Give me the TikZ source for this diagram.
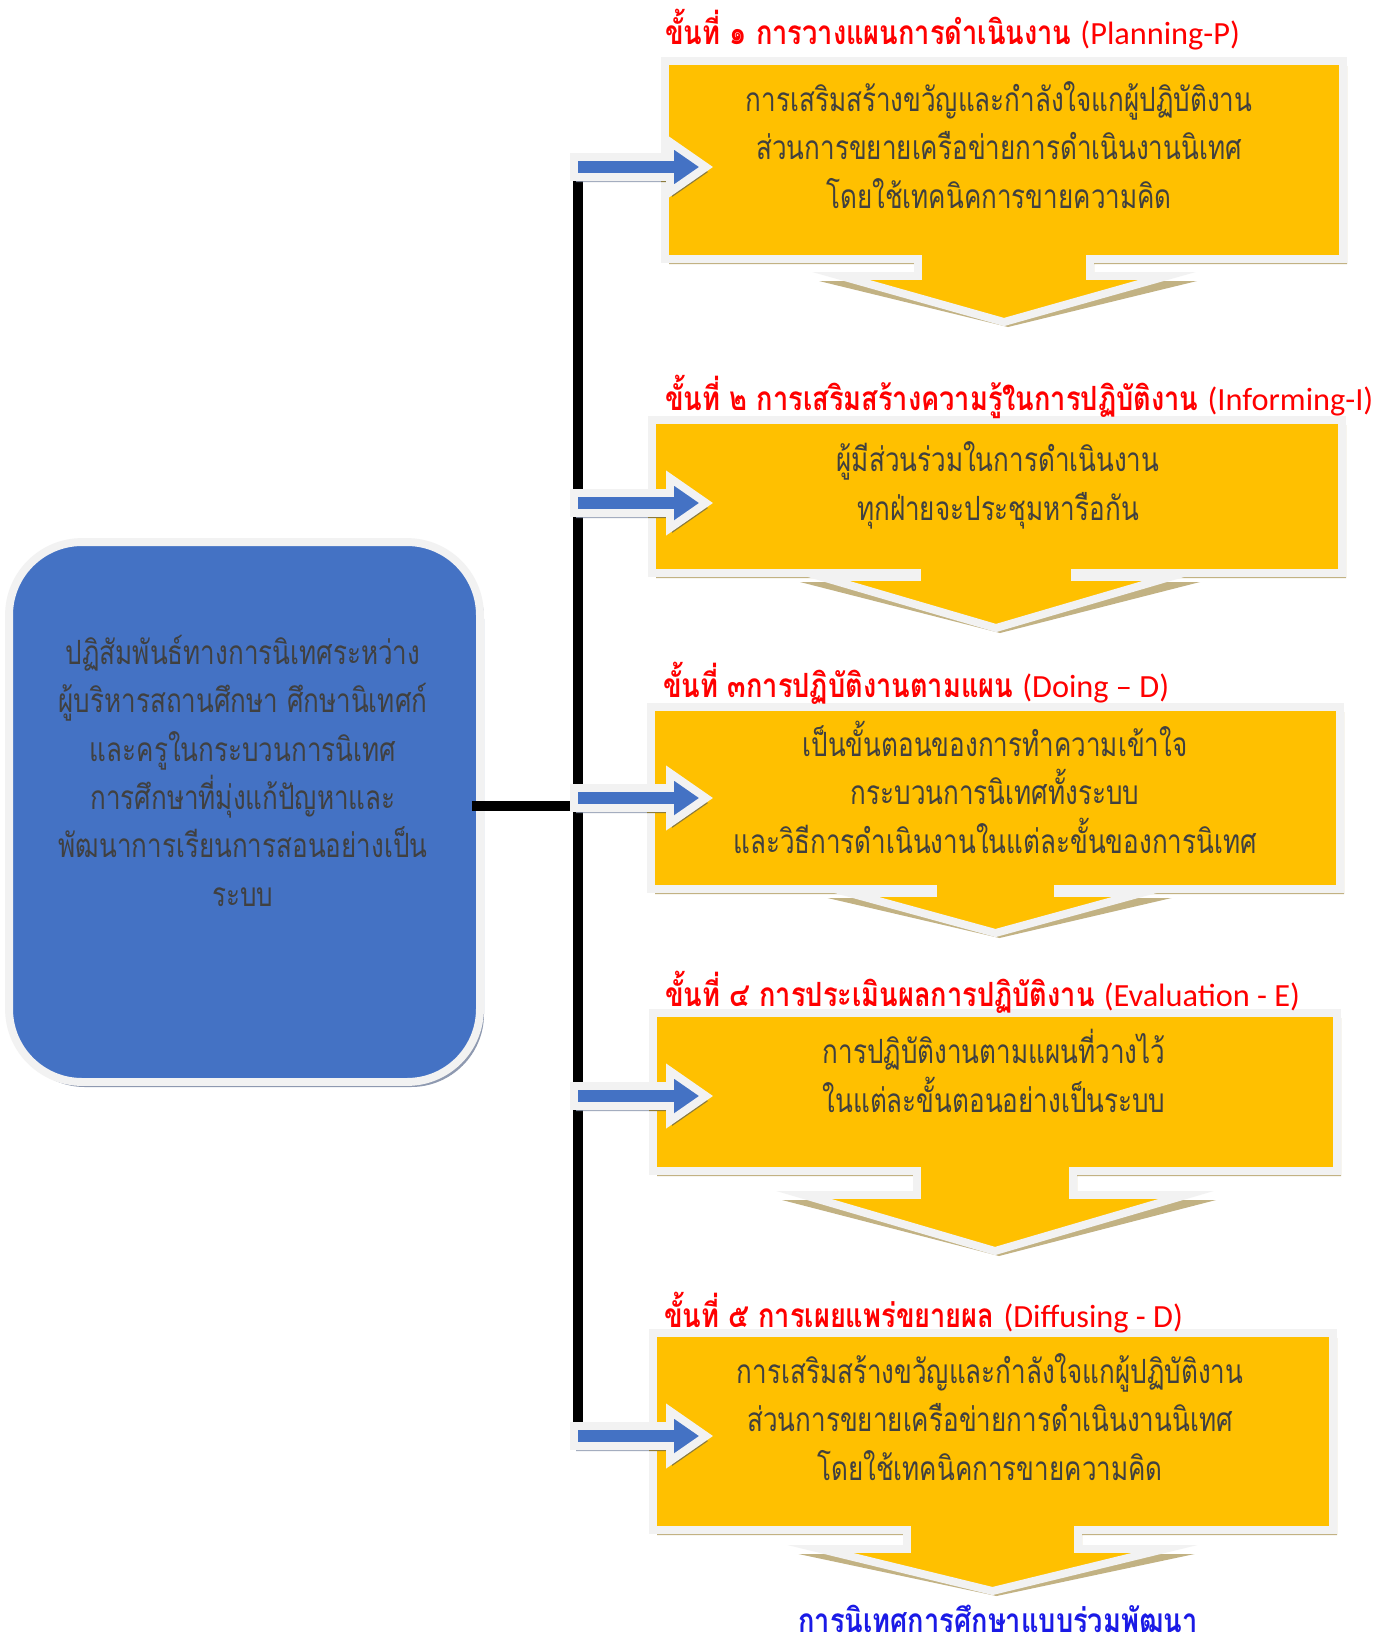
\documentclass[tikz,border=0pt]{standalone}
\usepackage{fontspec}
\usetikzlibrary{calc}
\newfontfamily\thai[Script=Thai, FakeStretch=0.78]{Loma}
\newfontfamily\thaititle[Script=Thai, FakeStretch=0.815]{Loma}
\newfontfamily\lat{Carlito}
\definecolor{boxyellow}{HTML}{FFC000}
\definecolor{boxblue}{HTML}{4472C4}
\definecolor{rimwhite}{HTML}{F2F2F2}
\definecolor{tanshadow}{HTML}{C2B283}
\definecolor{blueshadow}{HTML}{8E99B0}
\definecolor{oliveshadow}{HTML}{8C7B3C}
\definecolor{bodytext}{HTML}{404040}
\definecolor{titlered}{HTML}{FF0000}
\definecolor{finalblue}{HTML}{1A1AE6}
\tikzset{
  rim/.style={draw=rimwhite, line width=4.5pt, line join=miter},
  trunk/.style={line width=5.6pt, black},
  bodytxt/.style={font=\thai\fontsize{19}{27.5}\selectfont, text=bodytext, align=center, inner sep=0pt, anchor=base},
  steptitle/.style={font=\thaititle\bfseries\fontsize{19}{20}\selectfont, text=titlered, inner sep=0pt, anchor=base west},
}
\newcommand\latin[1]{{\lat\mdseries\fontsize{18.4}{20}\selectfont #1}}
% callout: L T R B shaftL shaftR wingY wingHalf apexY
\newcommand\callout[9]{%
  \pgfmathsetmacro\cax{(#5+#6)/2}%
  \pgfmathsetmacro\cwl{\cax-#8}\pgfmathsetmacro\cwr{\cax+#8}%
  \pgfmathsetmacro\cwls{\cax-#8-26}\pgfmathsetmacro\cwrs{\cax+#8+26}%
  \fill[tanshadow, shift={(4,5)}] (#1,#2) -- (#3,#2) -- (#3,#4) -- (#6,#4) -- (#6,#7) -- (\cwrs,#7) -- (\cax,#9) -- (\cwls,#7) -- (#5,#7) -- (#5,#4) -- (#1,#4) -- cycle;
  \draw[rim, fill=boxyellow] (#1,#2) -- (#3,#2) -- (#3,#4) -- (#6,#4) -- (#6,#7) -- (\cwr,#7) -- (\cax,#9) -- (\cwl,#7) -- (#5,#7) -- (#5,#4) -- (#1,#4) -- cycle;
}
% block arrow: name, y, box left edge
\newcommand\blockarrow[3]{%
  \coordinate (#1) at (578,#2);
  \begin{scope}
    \clip (560,#2-40) rectangle (#3,#2+40);
    \fill[blueshadow, opacity=.8, shift={(2,5)}] (574,#2-10) -- (670,#2-10) -- (670,#2-25) -- (706,#2) -- (670,#2+25) -- (670,#2+10) -- (574,#2+10) -- cycle;
  \end{scope}
  \begin{scope}
    \clip (#3,#2-40) rectangle (740,#2+40);
    \fill[oliveshadow, shift={(2,5)}] (574,#2-10) -- (670,#2-10) -- (670,#2-25) -- (706,#2) -- (670,#2+25) -- (670,#2+10) -- (574,#2+10) -- cycle;
  \end{scope}
  \draw[rim, fill=boxblue] (574,#2-10) -- (670,#2-10) -- (670,#2-25) -- (706,#2) -- (670,#2+25) -- (670,#2+10) -- (574,#2+10) -- cycle;
}
\begin{document}
\begin{tikzpicture}[x=0.02cm, y=-0.02cm]
\clip (0,0) rectangle (1391,1640);
\fill[white] (0,0) rectangle (1391,1640);

% left box
\fill[blueshadow, rounded corners=1.46cm] (12,546) rectangle (484,1087);
\node[rim, fill=boxblue, rounded corners=1.46cm, minimum width=9.42cm, minimum height=10.8cm, inner sep=0pt] (leftbox) at (244.5,812) {};
\node[bodytxt] (lefttext) at (243,906) {ปฏิสัมพันธ์ทางการนิเทศระหว่าง\\ผู้บริหารสถานศึกษา ศึกษานิเทศก์\\และครูในกระบวนการนิเทศ\\การศึกษาที่มุ่งแก้ปัญหาและ\\พัฒนาการเรียนการสอนอย่างเป็น\\ระบบ};

% trunk
\coordinate (top) at (578,167);
\coordinate (bottom) at (578,1436);
\coordinate (hub) at (578,806);
\draw[trunk] (top) -- (bottom);
\draw[trunk] ($(leftbox.east |- hub)+(-12,0)$) -- (hub);

% callouts
\callout{665}{61}{1343}{259}{918}{1090}{276}{163}{322}
\callout{652}{420}{1342}{573}{917}{1075}{577}{174}{628}
\callout{651}{707}{1340}{889}{933}{1058}{893}{146}{933}
\callout{653}{1013}{1337}{1171}{917}{1073}{1195}{191}{1251}
\callout{653}{1333}{1333}{1530}{907}{1078}{1549}{172}{1591}

% arrows
\blockarrow{a1}{167}{661}
\blockarrow{a2}{503}{648}
\blockarrow{a3}{798}{647}
\blockarrow{a4}{1096}{649}
\blockarrow{a5}{1436}{649}

% box texts (anchor = baseline of last line)
\node[bodytxt] (text1) at (999,208) {การเสริมสร้างขวัญและกำลังใจแกผู้ปฏิบัติงาน\\ส่วนการขยายเครือข่ายการดำเนินงานนิเทศ\\โดยใช้เทคนิคการขายความคิด};
\node[bodytxt] (text2) at (998,520) {ผู้มีส่วนร่วมในการดำเนินงาน\\ทุกฝ่ายจะประชุมหารือกัน};
\node[bodytxt] (text3) at (995,853) {เป็นขั้นตอนของการทำความเข้าใจ\\กระบวนการนิเทศทั้งระบบ\\และวิธีการดำเนินงานในแต่ละขั้นของการนิเทศ};
\node[bodytxt] (text4) at (994,1112) {การปฏิบัติงานตามแผนที่วางไว้\\ในแต่ละขั้นตอนอย่างเป็นระบบ};
\node[bodytxt] (text5) at (990,1480) {การเสริมสร้างขวัญและกำลังใจแกผู้ปฏิบัติงาน\\ส่วนการขยายเครือข่ายการดำเนินงานนิเทศ\\โดยใช้เทคนิคการขายความคิด};

% titles
\node[steptitle] (title1) at (665,44) {ขั้นที่ ๑ การวางแผนการดำเนินงาน \latin{(Planning-P)}};
\node[steptitle] (title2) at (665,410) {ขั้นที่ ๒ การเสริมสร้างความรู้ในการปฏิบัติงาน \latin{(Informing-I)}};
\node[steptitle] (title3) at (663,697) {ขั้นที่ ๓การปฏิบัติงานตามแผน \latin{(Doing – D)}};
\node[steptitle] (title4) at (665,1006) {ขั้นที่ ๔ การประเมินผลการปฏิบัติงาน \latin{(Evaluation - E)}};
\node[steptitle] (title5) at (664,1327) {ขั้นที่ ๕ การเผยแพร่ขยายผล \latin{(Diffusing - D)}};

% result
\node[font=\thaititle\bfseries\fontsize{19}{20}\selectfont, text=finalblue, inner sep=0pt, anchor=base] (result) at (998,1632) {การนิเทศการศึกษาแบบร่วมพัฒนา};
\end{tikzpicture}
\end{document}
